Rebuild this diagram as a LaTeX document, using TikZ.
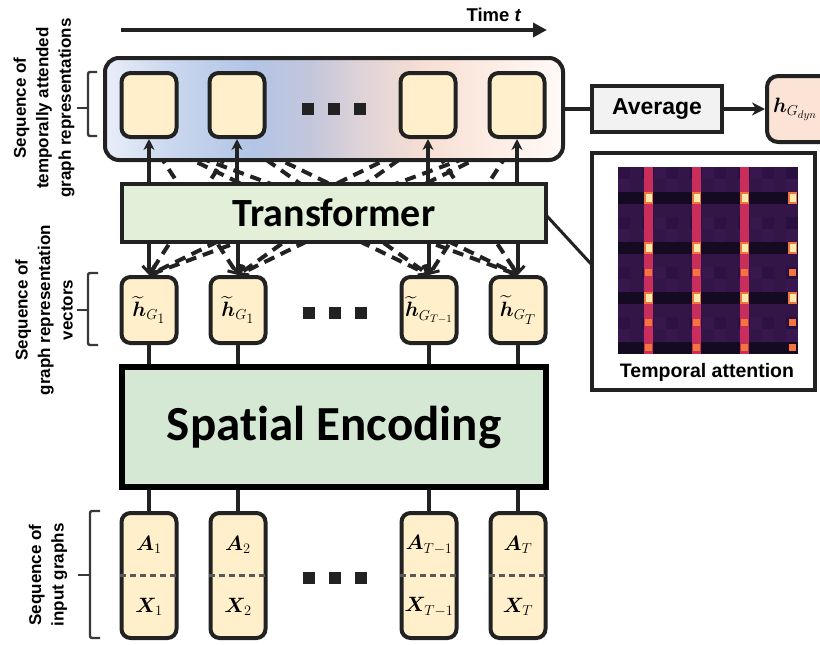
\documentclass[tikz,border=0pt]{standalone}
\usepackage{fontspec}
\setmainfont{Liberation Sans}
\newfontfamily\calfont[Ligatures=NoCommon]{Carlito}
\usepackage{amsmath,bm}
\usetikzlibrary{arrows.meta,shadows}

\definecolor{ink}{HTML}{222222}
\definecolor{boxyellow}{HTML}{FFF0CB}
\definecolor{trgreen}{HTML}{E2EFD9}
\definecolor{spgreen}{HTML}{D5E8D4}
\definecolor{avggray}{HTML}{F2F2F2}
\definecolor{peach}{HTML}{FBE3D5}
% colour stops of the time band
\definecolor{g0}{HTML}{E9EEF8}
\definecolor{g1}{HTML}{C9D6EE}
\definecolor{g2}{HTML}{B2C5E6}
\definecolor{g3}{HTML}{C3C6DB}
\definecolor{g4}{HTML}{DDD2D8}
\definecolor{g5}{HTML}{F7DFD3}
\definecolor{g6}{HTML}{FCEDE5}
\definecolor{g7}{HTML}{FFFAF8}
% heat-map palette
\definecolor{hmdark}{HTML}{140A22}
\definecolor{hmbasea}{HTML}{2E1244}
\definecolor{hmbaseb}{HTML}{331548}
\definecolor{hmbasec}{HTML}{2A1040}
\definecolor{hmbased}{HTML}{38174E}
\definecolor{hmred}{HTML}{C92D5C}
\definecolor{hmorange}{HTML}{F4743F}
\definecolor{hmhot}{HTML}{FFEBB0}

\pgfdeclarehorizontalshading{timeband}{100bp}{color(0bp)=(g0); color(25bp)=(g0);
  color(32.5bp)=(g1); color(41bp)=(g2); color(47.5bp)=(g3); color(52.5bp)=(g4);
  color(60bp)=(g5); color(67.5bp)=(g6); color(75bp)=(g7); color(100bp)=(g7)}

\pgfdeclarelayer{bg}
\pgfsetlayers{bg,main}

\begin{document}
\begin{tikzpicture}[x=1pt,y=-1pt,
  box/.style={draw=ink, line width=4pt, rounded corners=9pt, fill=boxyellow,
    minimum width=55pt, inner sep=0pt},
  tbox/.style={box, minimum height=64pt},
  hbox/.style={box, minimum height=66pt, font=\fontsize{22}{26}\selectfont},
  ibox/.style={box, minimum height=125pt},
  mlab/.style={inner sep=0pt, font=\fontsize{21}{24}\selectfont},
  block/.style={draw=ink, line width=4pt, inner sep=0pt},
  conn/.style={draw=ink, line width=3.4pt},
  upArr/.style={conn, -{Stealth[length=11pt,width=11pt]}},
  downArr/.style={conn, -{Straight Barb[length=7pt,width=13pt,line width=3pt]}},
  att/.style={draw=ink, line width=4pt, dash pattern=on 11pt off 7pt,
    -{Straight Barb[length=7pt,width=13pt,line width=3pt]}},
  brk/.style={draw=ink!90, line width=2.4pt, rounded corners=2pt},
  sidelab/.style={rotate=90, align=center, inner sep=0pt,
    font=\bfseries\fontsize{17}{22.5}\selectfont},
  sq/.style={fill=ink, minimum size=12pt, inner sep=0pt}
]
\useasboundingbox (0,0) rectangle (820,645);

% time axis
\coordinate (tstart) at (121,30);
\coordinate (tend) at (547,30);
\draw[draw=ink, line width=3.6pt, -{Triangle[length=14pt,width=14pt]}] (tstart) -- (tend);
\node[font=\bfseries\fontsize{18.5}{20}\selectfont] (timelab) at (494,15) {Time \textit{t}};

% band holding the attended representations
\node[draw=ink, line width=4pt, rounded corners=14pt, shading=timeband,
  minimum width=458pt, minimum height=102pt, inner sep=0pt] (band) at (334,109) {};

% top row
\node[tbox] (t1) at (149,105) {};
\node[tbox] (t2) at (237,105) {};
\node[tbox] (t3) at (428,105) {};
\node[tbox] (t4) at (517,105) {};
\foreach \k/\xx in {1/308,2/334,3/360} \node[sq] (tdot\k) at (\xx,109) {};

% transformer
\node[block, fill=trgreen, minimum width=424pt, minimum height=58pt,
  font=\calfont\bfseries\fontsize{40}{44}\selectfont] (tr) at (334,213) {Transformer};

% graph representation vectors
\node[hbox] (h1) at (149,310) {$\widetilde{\bm{h}}_{G_{\scriptstyle 1}}$};
\node[hbox] (h2) at (238,310) {$\widetilde{\bm{h}}_{G_{\scriptstyle 1}}$};
\node[hbox] (h3) at (429,310) {$\widetilde{\bm{h}}_{G_{T-1}}$};
\node[hbox] (h4) at (518,310) {$\widetilde{\bm{h}}_{G_{\scriptstyle T}}$};
\foreach \k/\xx in {1/309,2/335,3/361} \node[sq] (hdot\k) at (\xx,313) {};

% spatial encoding
\node[draw=black, line width=6pt, fill=spgreen, minimum width=424pt, minimum height=120pt,
  inner sep=0pt, font=\calfont\bfseries\fontsize{49}{54}\selectfont] (sp) at (334,427) {Spatial Encoding};

% input graphs
\node[ibox] (x1) at (149,575.5) {};
\node[ibox] (x2) at (238,575.5) {};
\node[ibox] (x3) at (429,575.5) {};
\node[ibox] (x4) at (518,575.5) {};
\foreach \k in {1,...,4}
  \draw[draw=ink!75, line width=2.2pt, dash pattern=on 6pt off 4pt] (x\k.west) -- (x\k.east);
\node[mlab] (a1) at (149,545) {$\bm{A}_1$};
\node[mlab] (a2) at (238,545) {$\bm{A}_2$};
\node[mlab] (a3) at (429,545) {$\bm{A}_{T-1}$};
\node[mlab] (a4) at (518,545) {$\bm{A}_T$};
\node[mlab] (b1) at (149,607) {$\bm{X}_1$};
\node[mlab] (b2) at (238,607) {$\bm{X}_2$};
\node[mlab] (b3) at (429,607) {$\bm{X}_{T-1}$};
\node[mlab] (b4) at (518,607) {$\bm{X}_T$};
\foreach \k/\xx in {1/309,2/335,3/361} \node[sq] (xdot\k) at (\xx,578) {};

% attention links, kept behind the blocks
\begin{pgfonlayer}{bg}
\foreach \i in {1,...,4}{
  \foreach \j in {1,...,4}{
    \ifnum\i=\j\relax\else
      \draw[att] (t\j.south) -- (h\i.north);
    \fi
  }
}
\end{pgfonlayer}

% vertical connectors
\foreach \k in {1,...,4}{
  \draw[upArr] (tr.north -| t\k) -- (t\k.south);
  \draw[downArr] (tr.south -| h\k) -- (h\k.north);
  \draw[conn] (h\k.south) -- (sp.north -| h\k);
  \draw[conn] (sp.south -| x\k) -- (x\k.north);
}

% averaging
\node[block, fill=avggray, minimum width=130pt, minimum height=46pt,
  font=\bfseries\fontsize{23}{26}\selectfont] (avg) at (657,109) {Average};
\node[draw=ink, line width=4pt, rounded corners=11pt, fill=peach, minimum width=66pt,
  minimum height=66pt, inner sep=0pt, drop shadow={shadow xshift=2pt, shadow yshift=-2pt, opacity=0.3},
  font=\fontsize{22}{24}\selectfont] (hd) at (800,109) {$\bm{h}_{G_{dyn}}$\hspace*{10pt}};
\draw[conn] (band.east) -- (avg.west);
\draw[conn, -{Stealth[length=13pt,width=13pt]}] (avg.east) -- (hd.west);

% temporal attention panel
\node[block, fill=white, minimum width=223pt, minimum height=237pt] (att) at (703.5,271.5) {};
\coordinate (trside) at (546,215);
\coordinate (attside) at (592,265);
\draw[draw=ink, line width=3pt] (trside) -- (attside);
% base cells
\foreach \i in {0,...,14}{
  \foreach \j in {0,...,14}{
    \pgfmathtruncatemacro\ri{mod(\i,4)==2 ? 1 : 0}
    \pgfmathtruncatemacro\vv{mod(\i*7+\j*5+\i*\j,4)}
    \ifnum\ri=1 \def\cc{hmdark}\else
      \ifcase\vv \def\cc{hmbasea}\or \def\cc{hmbaseb}\or \def\cc{hmbasec}\else \def\cc{hmbased}\fi
    \fi
    \fill[\cc] (618+12*\j,167+12.47*\i) rectangle ++(12,12.47);
  }
}
% bright columns with hot spots
\foreach \j in {2,6,10}{
  \fill[hmred] (620+12*\j,167) rectangle ++(9,187);
}
\foreach \j in {2,6,10,14}{
  \foreach \i in {2,6,10}{
    \fill[hmorange] (620+12*\j,167+12.47*\i) rectangle ++(9,12.47);
    \fill[hmhot] (621.5+12*\j,169+12.47*\i) rectangle ++(6,8.5);
  }
  \foreach \i in {8,12,14}{
    \fill[hmorange] (621+12*\j,169.5+12.47*\i) rectangle ++(7,7);
  }
}
\node[font=\bfseries\fontsize{19.5}{22}\selectfont] (attlab) at (707,372) {Temporal attention};

% side brackets and their captions
\draw[brk] (97,72) -- (88,72) -- (88,136) -- (97,136);
\draw[brk] (88,108) -- (77,108);
\draw[brk] (98,273) -- (88,273) -- (88,345) -- (98,345);
\draw[brk] (88,310) -- (77,310);
\draw[brk] (100,511) -- (90,511) -- (90,638) -- (100,638);
\draw[brk] (90,575) -- (78,575);
\node[sidelab] (lab1) at (44,108) {Sequence of\\temporally attended\\graph representations};
\node[sidelab] (lab2) at (44,310) {Sequence of\\graph representation\\vectors};
\node[sidelab] (lab3) at (48,575) {Sequence of\\input graphs};
\end{tikzpicture}
\end{document}
